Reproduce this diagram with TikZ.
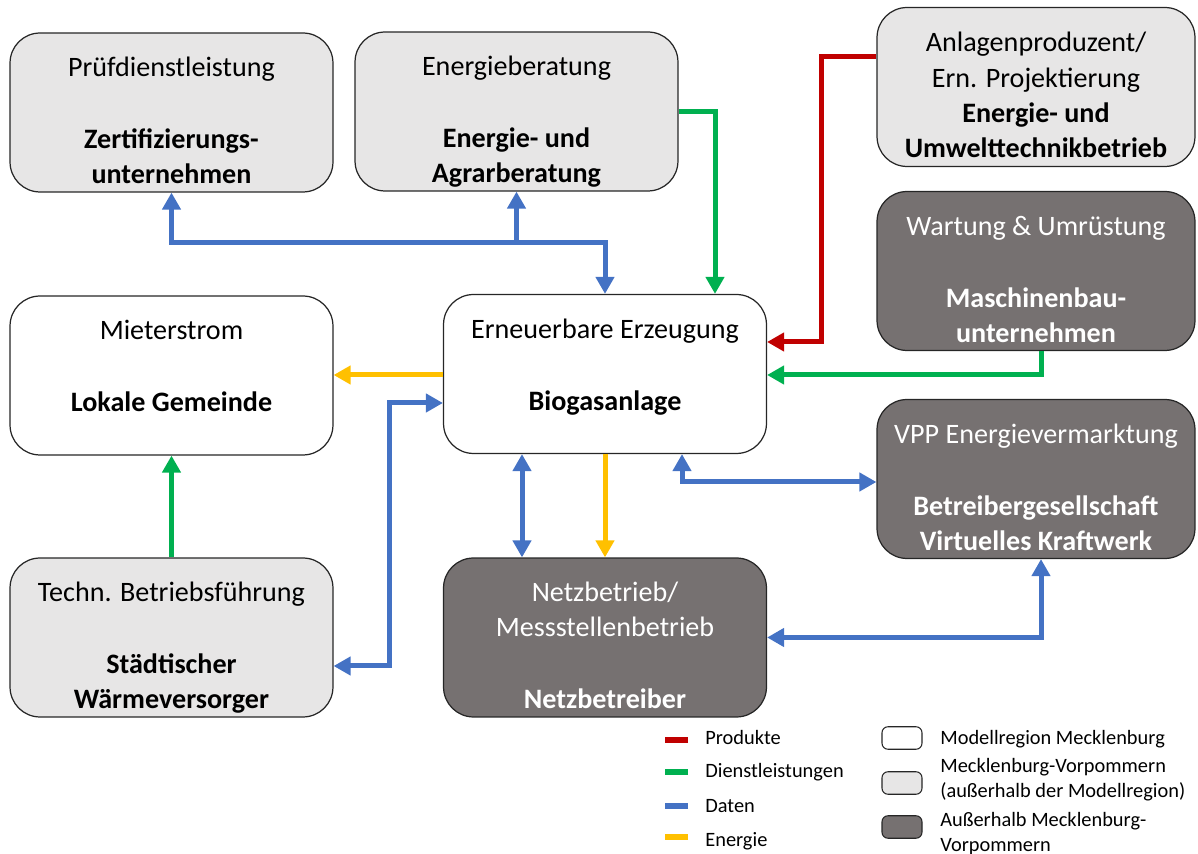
\documentclass[tikz,border=0pt]{standalone}
\usepackage{fontspec}
\setmainfont{Carlito}
\usetikzlibrary{arrows.meta}

\definecolor{rot}{HTML}{C00000}
\definecolor{gruen}{HTML}{00B050}
\definecolor{blau}{HTML}{4472C4}
\definecolor{gelb}{HTML}{FFC000}
\definecolor{hellgrau}{HTML}{E7E6E6}
\definecolor{dunkelgrau}{HTML}{767171}

% struts: text sits at the top of each box
\newcommand{\oben}{\rule{0pt}{24.1pt}}
\newcommand{\unten}{\rule[-4pt]{0pt}{4pt}}

\begin{document}
\begin{tikzpicture}[x=0.02cm, y=-0.02cm, >={Triangle[length=0.34cm, width=0.36cm]},
	box/.style={draw=black!85, line width=0.7pt, rounded corners=0.6cm, minimum width=6.46cm, minimum height=3.18cm, inner ysep=0pt, align=center, font=\fontsize{16}{20}\selectfont},
	weiss/.style={box, fill=white},
	hell/.style={box, fill=hellgrau},
	dunkel/.style={box, fill=dunkelgrau, text=white},
	fluss/.style={line width=0.1cm},
	produkt/.style={fluss, draw=rot},
	dienst/.style={fluss, draw=gruen},
	daten/.style={fluss, draw=blau},
	energie/.style={fluss, draw=gelb},
	legtext/.style={anchor=west, inner sep=0pt, align=left, font=\fontsize{11.6}{14.2}\selectfont},
	legbox/.style={draw=black!85, line width=0.6pt, rounded corners=0.12cm, minimum width=0.8cm, minimum height=0.45cm, inner sep=0pt}]
	\useasboundingbox (0,0) rectangle (1198,854);
	
	% Define nodes
	\node[hell] (pruef) at (171.5,112.5) {\oben Prüfdienstleistung\\[21pt]\textbf{Zertifizierungs-}\\\textbf{unternehmen}\unten};
	\node[hell] (bera) at (516.5,111.5) {\oben Energieberatung\\[21pt]\textbf{Energie- und}\\\textbf{Agrarberatung}\unten};
	\node[hell, minimum width=6.36cm] (anlage) at (1036,87) {\oben Anlagenproduzent/\\Ern. Projektierung\\\textbf{Energie- und}\\\textbf{Umwelttechnikbetrieb}\unten};
	\node[dunkel, minimum width=6.36cm] (wartung) at (1036,271) {\oben Wartung \& Umrüstung\\[21pt]\textbf{Maschinenbau-}\\\textbf{unternehmen}\unten};
	\node[weiss] (mieter) at (171.5,375.5) {\oben Mieterstrom\\[21pt]\textbf{Lokale Gemeinde}\\\unten};
	\node[weiss] (erz) at (605,374) {\oben Erneuerbare Erzeugung\\[21pt]\textbf{Biogasanlage}\\\unten};
	\node[dunkel, minimum width=6.36cm] (vpp) at (1036,479) {\oben VPP Energievermarktung\\[21pt]\textbf{Betreibergesellschaft}\\\textbf{Virtuelles Kraftwerk}\unten};
	\node[hell] (techn) at (171.5,637.5) {\oben Techn. Betriebsführung\\[21pt]\textbf{Städtischer}\\\textbf{Wärmeversorger}\unten};
	\node[dunkel] (netz) at (605,637.5) {\oben Netzbetrieb/\\Messstellenbetrieb\\[21pt]\textbf{Netzbetreiber}\unten};
	
	% Flows between the actors
	\draw[daten, <->] (pruef.south) -- ++(0,50) -| (erz.north);
	\draw[daten, ->] (bera.south |- 0,243) -- (bera.south);
	\draw[dienst, ->] (bera.east) -| (erz.north -| 715,0);
	\draw[produkt, ->] (anlage.west |- 0,57) -- ++(-55,0) |- (erz.east |- 0,342);
	\draw[dienst, ->] (wartung.south -| 1041,0) |- (erz.east |- 0,375);
	\draw[energie, ->] (erz.west |- 0,375) -- (mieter.east |- 0,375);
	\draw[daten, <->] (techn.east |- 0,666) -- ++(56,0) |- (erz.west |- 0,403);
	\draw[dienst, ->] (techn.north) -- (mieter.south);
	\draw[daten, <->] (erz.south -| 522,0) -- (netz.north -| 522,0);
	\draw[energie, ->] (erz.south) -- (netz.north);
	\draw[daten, <->] (erz.south -| 682,0) |- (vpp.west |- 0,482);
	\draw[daten, <->] (netz.east) -| (vpp.south -| 1041,0);
	
	% Legend
	\node[legtext] (lprod) at (705,738) {Produkte};
	\node[legtext] (ldienst) at (705,772) {Dienstleistungen};
	\node[legtext] (ldaten) at (705,806) {Daten};
	\node[legtext] (lenergie) at (705,841) {Energie};
	\draw[produkt, line width=0.12cm] (lprod.west) ++(-17,2) -- ++(-23,0);
	\draw[dienst, line width=0.12cm] (ldienst.west) ++(-17,0) -- ++(-23,0);
	\draw[daten, line width=0.12cm] (ldaten.west) ++(-17,0) -- ++(-23,0);
	\draw[energie, line width=0.12cm] (lenergie.west) ++(-17,-4) -- ++(-23,0);
	
	\node[legbox, fill=white] (bweiss) at (902,738) {};
	\node[legbox, fill=hellgrau] (bhell) at (902,783) {};
	\node[legbox, fill=dunkelgrau] (bdunkel) at (902,827) {};
	\node[legtext] (tweiss) at (940,739) {Modellregion Mecklenburg};
	\node[legtext] (thell) at (940,780) {Mecklenburg-Vorpommern\\(außerhalb der Modellregion)};
	\node[legtext] (tdunkel) at (940,834) {Außerhalb Mecklenburg-\\Vorpommern};
\end{tikzpicture}
\end{document}
